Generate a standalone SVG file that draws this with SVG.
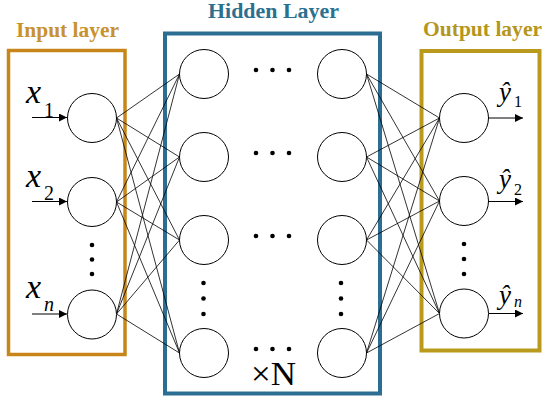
<svg xmlns="http://www.w3.org/2000/svg" width="550" height="402" viewBox="0 0 550 402">
<style>
.node{fill:#fff;stroke:#000;stroke-width:1}
.dot{fill:#000}
.ttl{font-family:"Liberation Serif","DejaVu Serif",serif;font-weight:bold;font-size:20px}
.var{font-family:"Liberation Serif","DejaVu Serif",serif;font-style:italic;fill:#000}
.sub{font-family:"Liberation Serif","DejaVu Serif",serif;fill:#000}
.subi{font-family:"Liberation Serif","DejaVu Serif",serif;font-style:italic;fill:#000}
.conn line{stroke:#000;stroke-width:0.8}
.conn line.arr{stroke:#000;stroke-width:1}
</style>
<defs>
<marker id="ah" viewBox="0 0 10 10" refX="10" refY="5" markerWidth="9" markerHeight="8" markerUnits="userSpaceOnUse" orient="auto">
<path d="M0,0 L10,5 L0,10 Z" fill="#000"/>
</marker>
</defs>
<rect width="550" height="402" fill="#fff"/>

<g id="input-box">
<rect x="8.5" y="50.5" width="116.5" height="304" fill="none" stroke="#C8861A" stroke-width="3.5"/>
<text class="ttl" x="16" y="37" fill="#C8922E" textLength="103" lengthAdjust="spacingAndGlyphs">Input layer</text>
</g>
<g id="hidden-box">
<rect x="165" y="33.5" width="215" height="360" fill="none" stroke="#2C6E91" stroke-width="4"/>
<text class="ttl" x="208" y="18" fill="#2C7090" textLength="131" lengthAdjust="spacingAndGlyphs">Hidden Layer</text>
<text x="251" y="385" font-family="Liberation Serif, serif" font-size="33" fill="#000" textLength="45" lengthAdjust="spacingAndGlyphs">×N</text>
</g>
<g id="output-box">
<rect x="421.5" y="51" width="118" height="299.5" fill="none" stroke="#BA9A1C" stroke-width="4"/>
<text class="ttl" x="423" y="36" fill="#B5961C" textLength="119" lengthAdjust="spacingAndGlyphs">Output layer</text>
</g>

<g id="connectors" class="conn">
<line x1="116.5" y1="118" x2="179.5" y2="74"/>
<line x1="116.5" y1="118" x2="179.5" y2="157"/>
<line x1="116.5" y1="118" x2="179.5" y2="240"/>
<line x1="116.5" y1="118" x2="179.5" y2="353"/>
<line x1="116.5" y1="202" x2="179.5" y2="74"/>
<line x1="116.5" y1="202" x2="179.5" y2="157"/>
<line x1="116.5" y1="202" x2="179.5" y2="240"/>
<line x1="116.5" y1="202" x2="179.5" y2="353"/>
<line x1="116.5" y1="314" x2="179.5" y2="74"/>
<line x1="116.5" y1="314" x2="179.5" y2="157"/>
<line x1="116.5" y1="314" x2="179.5" y2="240"/>
<line x1="116.5" y1="314" x2="179.5" y2="353"/>
<line x1="366.5" y1="74" x2="439.5" y2="118"/>
<line x1="366.5" y1="74" x2="439.5" y2="201"/>
<line x1="366.5" y1="74" x2="439.5" y2="313.5"/>
<line x1="366.5" y1="157" x2="439.5" y2="118"/>
<line x1="366.5" y1="157" x2="439.5" y2="201"/>
<line x1="366.5" y1="157" x2="439.5" y2="313.5"/>
<line x1="366.5" y1="240" x2="439.5" y2="118"/>
<line x1="366.5" y1="240" x2="439.5" y2="201"/>
<line x1="366.5" y1="240" x2="439.5" y2="313.5"/>
<line x1="366.5" y1="353" x2="439.5" y2="118"/>
<line x1="366.5" y1="353" x2="439.5" y2="201"/>
<line x1="366.5" y1="353" x2="439.5" y2="313.5"/>
<line class="arr" x1="32" y1="117.5" x2="67" y2="117.5" marker-end="url(#ah)"/>
<line class="arr" x1="32" y1="201.5" x2="67" y2="201.5" marker-end="url(#ah)"/>
<line class="arr" x1="32" y1="314" x2="67" y2="314" marker-end="url(#ah)"/>
<line class="arr" x1="488.5" y1="118" x2="523" y2="118" marker-end="url(#ah)"/>
<line class="arr" x1="488.5" y1="201.5" x2="523" y2="201.5" marker-end="url(#ah)"/>
<line class="arr" x1="488.5" y1="313.5" x2="523" y2="313.5" marker-end="url(#ah)"/>
</g>

<g id="in1"><circle class="node" cx="92" cy="118" r="24.5"/>
<text class="var" x="26" y="103" font-size="34" font-style="italic">x</text><text class="sub" x="44" y="117" font-size="20">1</text></g>
<g id="in2"><circle class="node" cx="92" cy="202" r="24.5"/>
<text class="var" x="26" y="187" font-size="34" font-style="italic">x</text><text class="sub" x="44" y="200" font-size="20">2</text></g>
<g id="in-dots"><circle class="dot" cx="92" cy="245" r="2.3"/><circle class="dot" cx="92" cy="259.5" r="2.3"/><circle class="dot" cx="92" cy="274" r="2.3"/></g>
<g id="inn"><circle class="node" cx="92" cy="314.5" r="24.5"/>
<text class="var" x="26" y="298" font-size="34" font-style="italic">x</text><text class="subi" x="44" y="311" font-size="20">n</text></g>

<g id="h11"><circle class="node" cx="204" cy="74" r="24.5"/></g>
<g id="h12"><circle class="node" cx="204" cy="157" r="24.5"/></g>
<g id="h13"><circle class="node" cx="204" cy="240" r="24.5"/></g>
<g id="h14"><circle class="node" cx="204" cy="353" r="24.5"/></g>
<g id="h21"><circle class="node" cx="342" cy="74" r="24.5"/></g>
<g id="h22"><circle class="node" cx="342" cy="157" r="24.5"/></g>
<g id="h23"><circle class="node" cx="342" cy="240" r="24.5"/></g>
<g id="h24"><circle class="node" cx="342" cy="353" r="24.5"/></g>
<g id="hidden-dots">
<circle class="dot" cx="256" cy="70" r="2.3"/><circle class="dot" cx="272.5" cy="70" r="2.3"/><circle class="dot" cx="289" cy="70" r="2.3"/>
<circle class="dot" cx="256" cy="153" r="2.3"/><circle class="dot" cx="272.5" cy="153" r="2.3"/><circle class="dot" cx="289" cy="153" r="2.3"/>
<circle class="dot" cx="256" cy="236" r="2.3"/><circle class="dot" cx="272.5" cy="236" r="2.3"/><circle class="dot" cx="289" cy="236" r="2.3"/>
<circle class="dot" cx="256" cy="349" r="2.3"/><circle class="dot" cx="272.5" cy="349" r="2.3"/><circle class="dot" cx="289" cy="349" r="2.3"/>
<circle class="dot" cx="203.5" cy="283" r="2.3"/><circle class="dot" cx="203.5" cy="298.5" r="2.3"/><circle class="dot" cx="203.5" cy="314" r="2.3"/>
<circle class="dot" cx="341" cy="283" r="2.3"/><circle class="dot" cx="341" cy="298.5" r="2.3"/><circle class="dot" cx="341" cy="314" r="2.3"/>
</g>

<g id="out1"><circle class="node" cx="464" cy="118" r="24.5"/>
<text class="var" x="499" y="101" font-size="27" font-style="italic">ŷ</text><text class="sub" x="514" y="107" font-size="16">1</text></g>
<g id="out2"><circle class="node" cx="464" cy="201" r="24.5"/>
<text class="var" x="499" y="188" font-size="27" font-style="italic">ŷ</text><text class="sub" x="514" y="195" font-size="16">2</text></g>
<g id="out-dots"><circle class="dot" cx="464" cy="244" r="2.3"/><circle class="dot" cx="464" cy="259" r="2.3"/><circle class="dot" cx="464" cy="274" r="2.3"/></g>
<g id="outn"><circle class="node" cx="464" cy="313.5" r="24.5"/>
<text class="var" x="499" y="304" font-size="27" font-style="italic">ŷ</text><text class="subi" x="514" y="307" font-size="16">n</text></g>
</svg>
